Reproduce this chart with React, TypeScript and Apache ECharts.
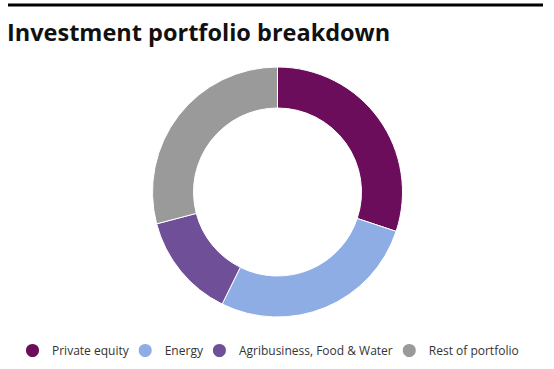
import React, { useEffect, useRef } from "react";
import * as echarts from "echarts";

const categories = ["Private equity", "Energy", "Agribusiness, Food & Water", "Rest of portfolio"];
const values = [30.1, 27.2, 13.6, 29.1];
const colors = ["#6b0d5a", "#8eade5", "#6f4f98", "#9a9a9a"];
const titleText = "Investment portfolio breakdown";

export default function App() {
  const ref = useRef<HTMLDivElement>(null);
  useEffect(() => {
    document.body.style.margin = "0";
    const chart = echarts.init(ref.current!, null, { renderer: "svg" });
    chart.setOption({
      animation: false,
      title: {
        text: titleText,
        left: 7,
        top: 20,
        padding: 0,
        textStyle: {
          fontFamily: "Open Sans",
          fontWeight: "bold",
          fontSize: 23.5,
          color: "#111",
        },
      },
      graphic: [
        {
          type: "line",
          shape: { x1: 8, y1: 5, x2: 543, y2: 5 },
          style: { stroke: "#000", lineWidth: 3 },
        },
      ],
      legend: {
        left: 24,
        top: 342,
        padding: 0,
        icon: "circle",
        itemWidth: 15,
        itemHeight: 15,
        itemGap: 8,
        data: categories,
        textStyle: {
          fontFamily: "Open Sans",
          fontSize: 12,
          color: "#333",
          padding: [0, 0, 0, 7],
        },
      },
      series: [
        {
          type: "pie",
          center: [277.5, 192],
          radius: [84, 125],
          startAngle: 90,
          clockwise: true,
          label: { show: false },
          labelLine: { show: false },
          emphasis: { disabled: true },
          itemStyle: { borderColor: "#fff", borderWidth: 1 },
          data: categories.map((name, i) => ({
            name,
            value: values[i],
            itemStyle: { color: colors[i] },
          })),
        },
      ],
    });
    return () => chart.dispose();
  }, []);
  return <div ref={ref} style={{ width: 554, height: 369 }} />;
}
